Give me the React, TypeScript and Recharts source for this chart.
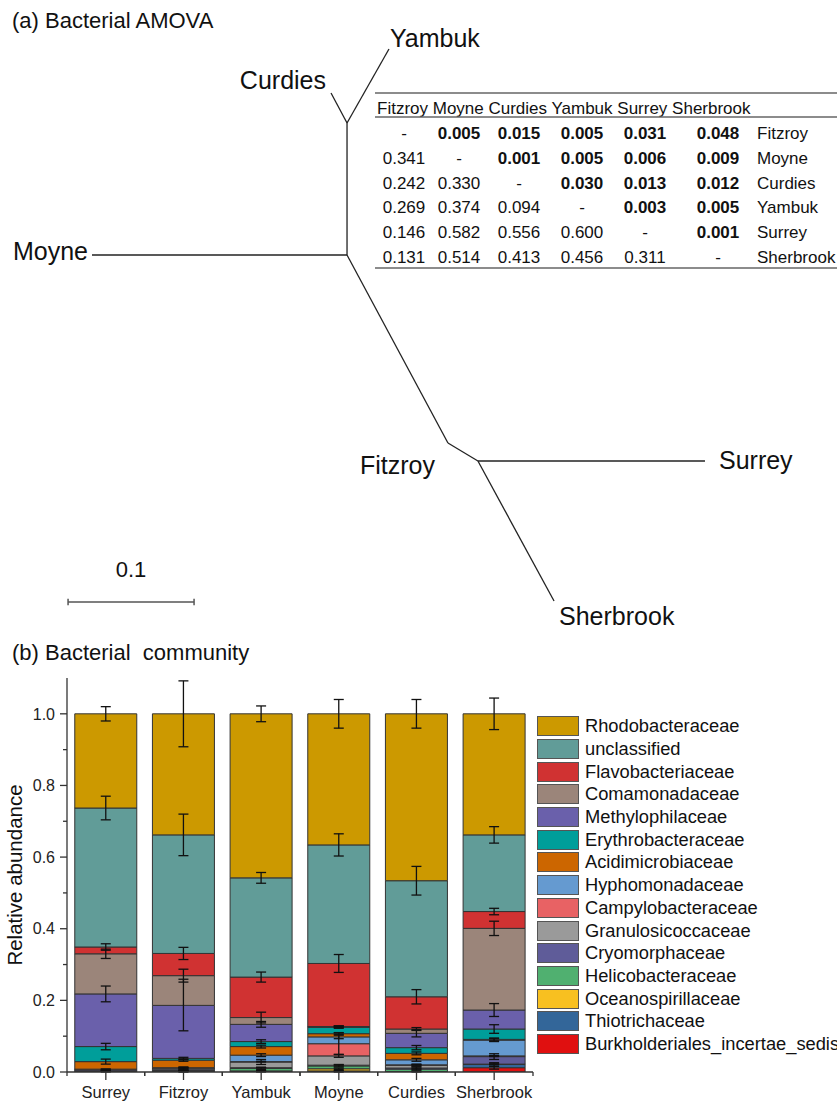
import React from 'react'
import {
	ScatterChart,
	Scatter,
	BarChart,
	Bar,
	ErrorBar,
	XAxis,
	YAxis,
	Legend,
} from 'recharts'

const FONT = '"Liberation Sans", Arial, Helvetica, sans-serif'
const INK = '#111'
const AXIS = '#333'

// ---------- (a) AMOVA tree, node positions in branch-length units ----------
const treeNodes = ['Moyne', 'A', 'B', 'Curdies', 'Yambuk', 'Fitzroy', 'C', 'Surrey', 'Sherbrook']
const treeX = [0, 0.2024, 0.2024, 0.1897, 0.2357, 0.2825, 0.3063, 0.4865, 0.3667]
const treeY = [0, 0, 0.1048, 0.1286, 0.1635, -0.1492, -0.1635, -0.1635, -0.2746]
const treeEdges = [
	['Moyne', 'A'],
	['A', 'B'],
	['B', 'Curdies'],
	['B', 'Yambuk'],
	['A', 'Fitzroy'],
	['Fitzroy', 'C'],
	['C', 'Surrey'],
	['C', 'Sherbrook'],
]
const treeTips = ['Moyne', 'Curdies', 'Yambuk', 'Fitzroy', 'Surrey', 'Sherbrook']

const scaleBarStart = -0.019
const scaleBarY = -0.2754
const scaleBarLength = 0.1
const scaleBarLabel = '0.1'

// pairwise table: lower triangle PhiST, upper triangle p (bold)
const amovaSites = ['Fitzroy', 'Moyne', 'Curdies', 'Yambuk', 'Surrey', 'Sherbrook']
const amovaRows = [
	['-', '0.005', '0.015', '0.005', '0.031', '0.048'],
	['0.341', '-', '0.001', '0.005', '0.006', '0.009'],
	['0.242', '0.330', '-', '0.030', '0.013', '0.012'],
	['0.269', '0.374', '0.094', '-', '0.003', '0.005'],
	['0.146', '0.582', '0.556', '0.600', '-', '0.001'],
	['0.131', '0.514', '0.413', '0.456', '0.311', '-'],
]

// ---------- (b) community composition ----------
const sites = ['Surrey', 'Fitzroy', 'Yambuk', 'Moyne', 'Curdies', 'Sherbrook']

// legend order = top of the stack first
const families = [
	'Rhodobacteraceae',
	'unclassified',
	'Flavobacteriaceae',
	'Comamonadaceae',
	'Methylophilaceae',
	'Erythrobacteraceae',
	'Acidimicrobiaceae',
	'Hyphomonadaceae',
	'Campylobacteraceae',
	'Granulosicoccaceae',
	'Cryomorphaceae',
	'Helicobacteraceae',
	'Oceanospirillaceae',
	'Thiotrichaceae',
	'Burkholderiales_incertae_sedis',
]
const familyColors = [
	'#cc9900',
	'#619c98',
	'#d03232',
	'#9b857a',
	'#6a60ab',
	'#009e9a',
	'#cc6600',
	'#659ad0',
	'#e86264',
	'#9a9a9a',
	'#5f5c99',
	'#50b070',
	'#f8c020',
	'#336699',
	'#e01010',
]

const rhodobacteraceae = [0.263, 0.338, 0.458, 0.366, 0.466, 0.338]
const unclassified = [0.388, 0.331, 0.277, 0.331, 0.324, 0.214]
const flavobacteriaceae = [0.019, 0.062, 0.113, 0.176, 0.09, 0.047]
const comamonadaceae = [0.112, 0.083, 0.019, 0.001, 0.012, 0.228]
const methylophilaceae = [0.147, 0.148, 0.048, 0.001, 0.04, 0.053]
const erythrobacteraceae = [0.042, 0.005, 0.014, 0.018, 0.016, 0.029]
const acidimicrobiaceae = [0.021, 0.021, 0.024, 0.009, 0.018, 0.002]
const hyphomonadaceae = [0.001, 0.001, 0.018, 0.019, 0.014, 0.044]
const campylobacteraceae = [0, 0, 0.001, 0.034, 0.001, 0.001]
const granulosicoccaceae = [0.001, 0.003, 0.016, 0.026, 0.008, 0.001]
const cryomorphaceae = [0.003, 0.004, 0.002, 0.002, 0.003, 0.021]
const helicobacteraceae = [0, 0.001, 0.007, 0.008, 0.007, 0.001]
const oceanospirillaceae = [0, 0, 0, 0.006, 0, 0]
const thiotrichaceae = [0.002, 0.002, 0.002, 0.002, 0.001, 0.009]
const burkholderiales = [0.001, 0.001, 0.001, 0.001, 0, 0.012]

// error bars ([below, above] where the bar is off-centre)
const rhodobacteraceaeErr = [0.02, 0.092, 0.022, 0.04, 0.04, 0.044]
const unclassifiedErr = [0.033, 0.058, 0.015, 0.031, 0.04, 0.023]
const flavobacteriaceaeErr = [0.009, 0.017, 0.014, 0.025, 0.02, 0.009]
const comamonadaceaeErr = [0.013, [0.018, -0.01], 0.015, 0.002, 0.004, 0.02]
const methylophilaceaeErr = [0.022, [0.071, 0.101], 0.008, 0.002, 0.01, 0.018]
const erythrobacteraceaeErr = [0.009, 0.003, 0.005, 0.003, 0.006, 0.012]
const acidimicrobiaceaeErr = [0.007, 0.003, 0.004, 0.003, 0.004, 0.004]
const hyphomonadaceaeErr = [0, 0.001, 0.004, 0.005, 0.004, 0.004]
const campylobacteraceaeErr = [0, 0, 0.001, 0.03, 0.001, 0.001]
const granulosicoccaceaeErr = [0.001, 0.003, 0.007, 0.004, 0.003, 0.001]
const cryomorphaceaeErr = [0.002, 0.003, 0.001, 0.002, 0.003, 0.008]
const helicobacteraceaeErr = [0, 0.001, 0.003, 0.003, 0.003, 0.001]
const oceanospirillaceaeErr = [0, 0, 0, 0.002, 0, 0]
const thiotrichaceaeErr = [0.001, 0.002, 0.001, 0.001, 0.001, 0.005]
const burkholderialesErr = [0.001, 0.001, 0.001, 0.001, 0, 0.004]

const yMajorTicks = [0, 0.2, 0.4, 0.6, 0.8, 1.0]
const yMinorTicks = [0.1, 0.3, 0.5, 0.7, 0.9]

const seriesValues = [
	rhodobacteraceae, unclassified, flavobacteriaceae, comamonadaceae, methylophilaceae,
	erythrobacteraceae, acidimicrobiaceae, hyphomonadaceae, campylobacteraceae, granulosicoccaceae,
	cryomorphaceae, helicobacteraceae, oceanospirillaceae, thiotrichaceae, burkholderiales,
]
const seriesErrors = [
	rhodobacteraceaeErr, unclassifiedErr, flavobacteriaceaeErr, comamonadaceaeErr, methylophilaceaeErr,
	erythrobacteraceaeErr, acidimicrobiaceaeErr, hyphomonadaceaeErr, campylobacteraceaeErr, granulosicoccaceaeErr,
	cryomorphaceaeErr, helicobacteraceaeErr, oceanospirillaceaeErr, thiotrichaceaeErr, burkholderialesErr,
]

const barData = sites.map((site, i) => {
	const row: Record<string, any> = { site }
	families.forEach((f, k) => {
		row[f] = seriesValues[k][i]
		row[f + '_err'] = seriesErrors[k][i]
	})
	return row
})

// ---------- tree helpers ----------
const nodePoint = (name: string) => {
	const i = treeNodes.indexOf(name)
	return { x: treeX[i], y: treeY[i], name }
}
const branchData = treeEdges.map(([a, b]) => [nodePoint(a), nodePoint(b)])
const tipData = treeTips.map(nodePoint)

// label placement around each tip (px)
const tipLabelOffset: Record<string, { dx: number; dy: number; anchor: string }> = {
	Moyne: { dx: -4, dy: 5, anchor: 'end' },
	Curdies: { dx: -5, dy: -4, anchor: 'end' },
	Yambuk: { dx: 1, dy: -2, anchor: 'start' },
	Fitzroy: { dx: -88, dy: 31, anchor: 'start' },
	Surrey: { dx: 14, dy: 8, anchor: 'start' },
	Sherbrook: { dx: 5, dy: 24, anchor: 'start' },
}

const TICK_HALF = 0.0025
const scaleBarSegments = [
	[{ x: scaleBarStart, y: scaleBarY }, { x: scaleBarStart + scaleBarLength, y: scaleBarY }],
	[{ x: scaleBarStart, y: scaleBarY - TICK_HALF }, { x: scaleBarStart, y: scaleBarY + TICK_HALF }],
	[
		{ x: scaleBarStart + scaleBarLength, y: scaleBarY - TICK_HALF },
		{ x: scaleBarStart + scaleBarLength, y: scaleBarY + TICK_HALF },
	],
]
const scaleLabelData = [{ x: scaleBarStart + scaleBarLength / 2, y: scaleBarY, name: scaleBarLabel }]

const NoShape = () => <g />

const TipLabel = (props: any) => {
	const { cx, cy, payload } = props
	const o = tipLabelOffset[payload.name]
	return (
		<text x={cx + o.dx} y={cy + o.dy} textAnchor={o.anchor} fontSize={25} fill={INK} fontFamily={FONT}>
			{payload.name}
		</text>
	)
}

const ScaleLabel = (props: any) => (
	<text x={props.cx} y={props.cy - 25} textAnchor='middle' fontSize={22} fill={INK} fontFamily={FONT}>
		{props.payload.name}
	</text>
)

// ---------- bar chart helpers ----------
const BAND = 466 / 6

const YTick = (props: any) => {
	const { x, y, payload } = props
	const major = yMajorTicks.includes(payload.value)
	return (
		<g>
			<line x1={x - (major ? 7 : 4)} x2={x} y1={y} y2={y} stroke={AXIS} strokeWidth={1.3} />
			{major && (
				<text x={x - 12} y={y} dy='0.36em' textAnchor='end' fontSize={16} fill='#222' fontFamily={FONT}>
					{payload.value.toFixed(1)}
				</text>
			)}
		</g>
	)
}

const XTick = (props: any) => {
	const { x, y, payload } = props
	return (
		<g>
			<line x1={x} x2={x} y1={y} y2={y + 8} stroke={AXIS} strokeWidth={1.3} />
			<line x1={x - BAND / 2} x2={x - BAND / 2} y1={y} y2={y + 4} stroke={AXIS} strokeWidth={1.3} />
			<line x1={x + BAND / 2} x2={x + BAND / 2} y1={y} y2={y + 4} stroke={AXIS} strokeWidth={1.3} />
			<text x={x} y={y + 26} textAnchor='middle' fontSize={16.5} fill='#222' fontFamily={FONT}>
				{payload.value}
			</text>
		</g>
	)
}

const LegendContent = () => (
	<div style={{ fontFamily: FONT }}>
		{families.map((name, i) => (
			<div key={name} style={{ display: 'flex', alignItems: 'center', height: 22.7 }}>
				<span
					style={{
						display: 'inline-block',
						width: 42,
						height: 20,
						background: familyColors[i],
						border: '1.5px solid #555',
						boxSizing: 'border-box',
						flexShrink: 0,
					}}
				/>
				<span style={{ marginLeft: 6, fontSize: 18.3, color: INK, whiteSpace: 'nowrap' }}>{name}</span>
			</div>
		))}
	</div>
)

const colCenters = [404, 459, 519, 582, 645, 718]

export default function App() {
	const stackOrder = families.map((_, k) => families.length - 1 - k)
	return (
		<div
			style={{
				position: 'absolute',
				left: 0,
				top: 0,
				width: 837,
				height: 1101,
				overflow: 'hidden',
				background: '#fff',
				fontFamily: FONT,
			}}
		>
			{/* titles and AMOVA table */}
			<svg width={837} height={1101} style={{ position: 'absolute', left: 0, top: 0 }}>
				<text x={12} y={28} fontSize={22} fill={INK} fontFamily={FONT}>
					(a) Bacterial AMOVA
				</text>
				<text x={12} y={660} fontSize={22} fill={INK} fontFamily={FONT} style={{ whiteSpace: 'pre' }}>
					{'(b) Bacterial  community'}
				</text>

				<line x1={375} x2={837} y1={93} y2={93} stroke='#666' strokeWidth={1.5} />
				<text x={377} y={114} fontSize={17} fill={INK} fontFamily={FONT}>
					{amovaSites.join(' ')}
				</text>
				<line x1={375} x2={837} y1={117} y2={117} stroke='#666' strokeWidth={1.5} />
				{amovaRows.map((row, r) => (
					<g key={r}>
						{row.map((v, c) => (
							<text
								key={c}
								x={colCenters[c]}
								y={139 + r * 24.8}
								textAnchor='middle'
								fontSize={17}
								fontWeight={c > r ? 'bold' : 'normal'}
								fill={INK}
								fontFamily={FONT}
							>
								{v}
							</text>
						))}
						<text x={757} y={139 + r * 24.8} fontSize={17} fill={INK} fontFamily={FONT}>
							{amovaSites[r]}
						</text>
					</g>
				))}
				<line x1={375} x2={837} y1={268} y2={268} stroke='#666' strokeWidth={1.5} />
			</svg>

			{/* (a) tree */}
			<div style={{ position: 'absolute', left: 0, top: 0 }}>
				<ScatterChart width={837} height={640} margin={{ top: 0, right: 0, bottom: 0, left: 0 }}>
					<XAxis type='number' dataKey='x' domain={[-0.07302, 0.59127]} hide allowDataOverflow />
					<YAxis type='number' dataKey='y' domain={[-0.30556, 0.20238]} hide allowDataOverflow />
					{branchData.map((d, i) => (
						<Scatter
							key={'b' + i}
							data={d}
							line={{ stroke: '#222', strokeWidth: 1.3 }}
							shape={NoShape}
							isAnimationActive={false}
						/>
					))}
					{scaleBarSegments.map((d, i) => (
						<Scatter
							key={'s' + i}
							data={d}
							line={{ stroke: '#555', strokeWidth: 1.5 }}
							shape={NoShape}
							isAnimationActive={false}
						/>
					))}
					<Scatter data={tipData} shape={TipLabel} isAnimationActive={false} />
					<Scatter data={scaleLabelData} shape={ScaleLabel} isAnimationActive={false} />
				</ScatterChart>
			</div>

			{/* (b) stacked bars */}
			<div style={{ position: 'absolute', left: 0, top: 640 }}>
				<BarChart
					width={837}
					height={461}
					data={barData}
					margin={{ top: 38, right: 4, bottom: 0, left: 0 }}
					barCategoryGap='10%'
				>
					<XAxis
						dataKey='site'
						height={29}
						interval={0}
						tickLine={false}
						tickSize={0}
						tickMargin={0}
						tick={XTick}
						axisLine={{ stroke: AXIS, strokeWidth: 1.3 }}
					/>
					<YAxis
						width={67}
						type='number'
						domain={[0, 1.1]}
						allowDataOverflow
						ticks={[...yMajorTicks, ...yMinorTicks].sort((a, b) => a - b)}
						interval={0}
						tickLine={false}
						tickSize={0}
						tickMargin={0}
						tick={YTick}
						axisLine={{ stroke: AXIS, strokeWidth: 1.3 }}
						label={{
							value: 'Relative abundance',
							angle: -90,
							position: 'insideLeft',
							offset: 15,
							style: { textAnchor: 'middle', fontSize: 20.5, fill: INK, fontFamily: FONT },
						}}
					/>
					<Legend
						layout='vertical'
						align='right'
						verticalAlign='top'
						width={300}
						wrapperStyle={{ left: 537, top: 75, width: 300, overflow: 'hidden' }}
						content={LegendContent}
					/>
					{stackOrder.map((k) => (
						<Bar
							key={families[k]}
							dataKey={families[k]}
							stackId='a'
							fill={familyColors[k]}
							stroke='#333'
							strokeWidth={1}
							isAnimationActive={false}
						>
							<ErrorBar dataKey={families[k] + '_err'} width={5} stroke={INK} strokeWidth={1.3} direction='y' />
						</Bar>
					))}
				</BarChart>
			</div>
		</div>
	)
}
